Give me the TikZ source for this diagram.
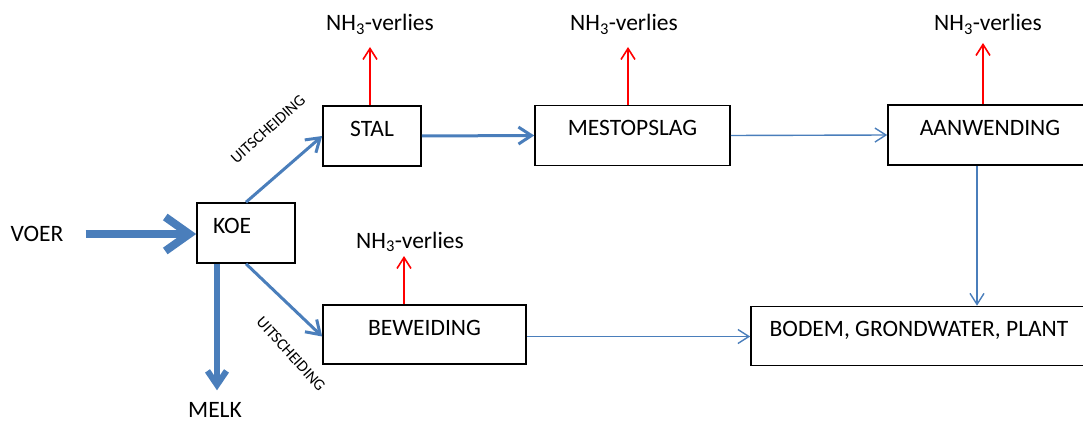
\documentclass[tikz,border=0pt]{standalone}
\usepackage{fontspec}
\setmainfont{Carlito}
\usetikzlibrary{arrows.meta}
\definecolor{flowblue}{RGB}{74,126,187}
\definecolor{lossred}{RGB}{255,0,0}
\begin{document}
\begin{tikzpicture}[x=1pt,y=-1pt,
  font=\fontsize{23.5}{28}\selectfont,
  box/.style={draw=black, line width=1.6pt, minimum height=60pt,
    minimum width=#1, inner sep=0pt, text height=15pt, text depth=14pt},
  lbl/.style={inner sep=0pt},
  side/.style={inner sep=0pt, font=\fontsize{16}{19}\selectfont},
  feed/.style={draw=flowblue, line width=8pt,
    -{Straight Barb[length=24pt,width=34pt]}},
  milk/.style={draw=flowblue, line width=6pt,
    -{Straight Barb[length=14pt,width=19pt]}},
  flow/.style={draw=flowblue, line width=3pt,
    -{Straight Barb[length=13pt,width=17pt]}},
  thinflow/.style={draw=flowblue, line width=1.4pt,
    -{Straight Barb[length=11pt,width=14pt]}},
  loss/.style={draw=lossred, line width=1.6pt,
    -{Straight Barb[length=11pt,width=14pt]}}]
\clip (0,0) rectangle (1083,422);

% process boxes
\node[box=98pt, text width=66pt, align=left, inner xsep=16pt] (koe) at (246,233) {KOE};
\node[box=98pt] (stal) at (372,136) {STAL};
\node[box=195pt] (mest) at (632.5,135.5) {MESTOPSLAG};
\node[box=204pt] (aanw) at (990,135) {AANWENDING};
\node[box=203pt, minimum height=59pt] (bew) at (424.5,334.5) {BEWEIDING};
\node[box=336pt, minimum height=59pt] (bodem) at (919,336) {BODEM, GRONDWATER, PLANT};

% inputs and outputs
\node[lbl] (voer) at (37,234) {VOER};
\node[lbl] (melk) at (215,410) {MELK};

% ammonia losses
\node[lbl, anchor=base] (nh1) at (380,31) {NH\textsubscript{3}-verlies};
\node[lbl, anchor=base] (nh2) at (624,31) {NH\textsubscript{3}-verlies};
\node[lbl, anchor=base] (nh3) at (988,31) {NH\textsubscript{3}-verlies};
\node[lbl, anchor=base] (nh4) at (410,248) {NH\textsubscript{3}-verlies};

% side labels
\node[side, rotate=42] (uit1) at (268,129) {UITSCHEIDING};
\node[side, rotate=-48] (uit2) at (291,354) {UITSCHEIDING};

% flows
\draw[feed, shorten <=22pt] (voer.east) -- (voer.east -| koe.west);
\draw[milk, shorten >=12pt] ([xshift=2pt]koe.south -| melk) -- ([xshift=2pt]melk.north);
\draw[flow] (koe.north) -- (stal.west);
\draw[flow] (koe.south) -- ([yshift=-2pt]bew.west);
\draw[flow] (stal.east) -- (mest.west);
\draw[thinflow] (mest.east) -- (aanw.west);
\draw[thinflow] ([yshift=-2pt]bew.east) -- ([yshift=-2pt]bew.east -| bodem.west);
\draw[thinflow] ([xshift=-13pt]aanw.south) -- ([xshift=-13pt]aanw.south |- bodem.north);

\draw[loss, shorten >=16pt] ([xshift=-2pt]stal.north) -- ([xshift=-2pt]stal.north |- nh1.base);
\draw[loss, shorten >=16pt] ([xshift=-4.5pt]mest.north) -- ([xshift=-4.5pt]mest.north |- nh2.base);
\draw[loss, shorten >=12pt] ([xshift=-7pt]aanw.north) -- ([xshift=-7pt]aanw.north |- nh3.base);
\draw[loss, shorten >=8pt] ([xshift=-20.5pt]bew.north) -- ([xshift=-20.5pt]bew.north |- nh4.base);
\end{tikzpicture}
\end{document}
